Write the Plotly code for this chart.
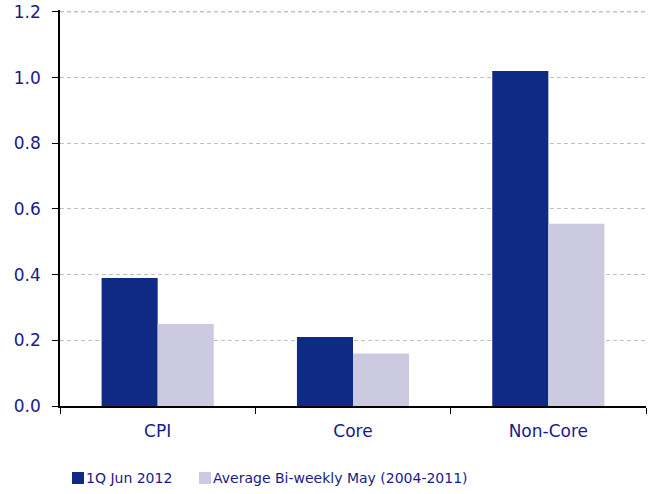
import plotly.graph_objects as go

categories = ["CPI", "Core", "Non-Core"]
series1_name = "1Q Jun 2012"
series1 = [0.39, 0.21, 1.02]
series2_name = "Average Bi-weekly May (2004-2011)"
series2 = [0.25, 0.16, 0.555]
y_ticks = [0.0, 0.2, 0.4, 0.6, 0.8, 1.0, 1.2]

dark = "#0e2a84"
light = "#cbcae0"
text_color = "#1a1a8a"
grid_color = "#c0c0c0"
grid_dash = "4px,3px"
font_family = "DejaVu Sans, Verdana, sans-serif"

fig = go.Figure()
fig.add_trace(go.Bar(x=categories, y=series1, name=series1_name,
                     marker=dict(color=dark, line=dict(width=0))))
fig.add_trace(go.Bar(x=categories, y=series2, name=series2_name,
                     marker=dict(color=light, line=dict(width=0))))

# top gridline (plotly omits it at the range edge)
fig.add_shape(type="line", xref="paper", yref="y", x0=0, x1=1,
              y0=y_ticks[-1], y1=y_ticks[-1],
              line=dict(color=grid_color, width=1, dash=grid_dash), layer="below")

PLOT_H = 396
# Custom legend (squares + text) below the plot
legend_items = [(series1_name, dark, 72), (series2_name, light, 199)]
for name, col, px in legend_items:
    fig.add_shape(type="rect", xref="paper", yref="paper",
                  x0=(px - 60) / 586, x1=(px + 12 - 60) / 586,
                  y0=-(484 - 406) / PLOT_H, y1=-(472 - 406) / PLOT_H,
                  fillcolor=col, line=dict(width=0))
    fig.add_annotation(text=name, xref="paper", yref="paper",
                       x=(px + 12 - 60) / 586, y=-(478 - 406) / PLOT_H,
                       xanchor="left", yanchor="middle", showarrow=False,
                       font=dict(size=14, color=text_color))

fig.update_layout(
    width=651, height=494,
    margin=dict(l=60, r=5, t=10, b=88, autoexpand=False),
    paper_bgcolor="white", plot_bgcolor="white",
    barmode="group", bargap=0.426, bargroupgap=0,
    font=dict(family=font_family, color=text_color, size=15),
    showlegend=False,
    xaxis=dict(showline=True, linecolor="black", linewidth=1.5,
               ticks="outside", tickson="boundaries", ticklen=6, tickcolor="black",
               tickfont=dict(size=17, color=text_color), showgrid=False,
               ticklabelstandoff=9),
    yaxis=dict(range=[0, 1.206], tickvals=y_ticks, ticktext=[f"{v:.1f}" for v in y_ticks],
               showline=True, linecolor="black", linewidth=1.5,
               ticks="outside", ticklen=6, tickcolor="black",
               tickfont=dict(size=17, color=text_color), ticklabelstandoff=8,
               showgrid=True, gridcolor=grid_color, griddash=grid_dash, gridwidth=1,
               zeroline=False),
)

fig.write_html("out.html")
